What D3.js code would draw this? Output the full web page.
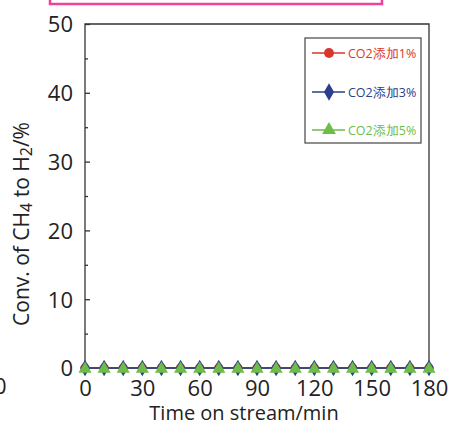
<!DOCTYPE html>
<html><head><meta charset="utf-8">
<script src="https://cdn.jsdelivr.net/npm/d3@7"></script>
<style>body{margin:0;background:#fff}svg{display:block}</style>
</head><body>
<svg id="c" width="452" height="425"></svg>
<script>
const times = [0,10,20,30,40,50,60,70,80,90,100,110,120,130,140,150,160,170,180];
const conv1 = [0,0,0,0,0,0,0,0,0,0,0,0,0,0,0,0,0,0,0];
const conv3 = [0,0,0,0,0,0,0,0,0,0,0,0,0,0,0,0,0,0,0];
const conv5 = [0,0,0,0,0,0,0,0,0,0,0,0,0,0,0,0,0,0,0];
const seriesNames = ["CO2添加1%","CO2添加3%","CO2添加5%"];
const xTicks = [0,30,60,90,120,150,180];
const yTicks = [0,10,20,30,40,50];
const yMinor = [5,15,25,35,45];

const colors = ["#d8372b","#2c3e8c","#6dbd48"];
const font = "'Open Sans', 'Noto Sans', sans-serif";
const svg = d3.select("#c");
const L=85, R=429, T=24, B=368;
const x = d3.scaleLinear().domain([0,180]).range([L,R]);
const y = d3.scaleLinear().domain([0,50]).range([B,T]);

// pink box at top
svg.append("rect").attr("x",50).attr("y",-10).attr("width",332).attr("height",14)
  .attr("fill","none").attr("stroke","#f0429a").attr("stroke-width",2.5);

// frame
svg.append("path").attr("d",`M${L},${B}V${T}H${R}V${B}`).attr("fill","none").attr("stroke","#333").attr("stroke-width",1.3);

// y axis
const yAxis = d3.axisLeft(y).tickValues(yTicks).tickSize(-5).tickPadding(12).tickFormat(d3.format("d"));
const gy = svg.append("g").attr("transform",`translate(${L},0)`).call(yAxis);
gy.select(".domain").remove();
gy.selectAll("line").attr("stroke","#333").attr("stroke-width",1.3);
gy.selectAll("text").attr("font-family",font).attr("font-size",22).attr("fill","#222").attr("dy","0.36em");
const gym = svg.append("g").attr("transform",`translate(${L},0)`).call(d3.axisLeft(y).tickValues(yMinor).tickSize(-3).tickFormat(""));
gym.select(".domain").remove();
gym.selectAll("line").attr("stroke","#333").attr("stroke-width",1.3);

// x axis
const gx = svg.append("g").attr("transform",`translate(0,${B})`).call(d3.axisBottom(x).tickValues(xTicks).tickSize(0).tickPadding(12));
gx.select(".domain").remove();
gx.selectAll("text").attr("font-family",font).attr("font-size",22).attr("fill","#222");

// titles
svg.append("text").attr("x",244).attr("y",420).attr("text-anchor","middle")
  .attr("font-family",font).attr("font-size",20).attr("fill","#222").text("Time on stream/min");
const yt = svg.append("text").attr("transform","translate(29,224) rotate(-90)").attr("text-anchor","middle")
  .attr("font-family",font).attr("font-size",21).attr("fill","#222");
yt.append("tspan").text("Conv. of CH");
yt.append("tspan").attr("font-size",16).attr("dy",3).text("4");
yt.append("tspan").attr("dy",-3).text(" to H");
yt.append("tspan").attr("font-size",16).attr("dy",3).text("2");
yt.append("tspan").attr("dy",-3).text("/%");

// stray label at left edge
svg.append("text").attr("x",-6).attr("y",394).attr("font-family",font).attr("font-size",22).attr("fill","#222").text("0");

// data
const data = [conv1,conv3,conv5];
const symbols = [d3.symbolCircle,d3.symbolDiamond,d3.symbolTriangle];
const sizes = [70,80,75];
const line = d3.line().x((d,i)=>x(times[i])).y(d=>y(d));
data.forEach((vals,k)=>{
  svg.append("path").datum(vals).attr("d",line).attr("fill","none").attr("stroke",k===2?"#3a4a6a":colors[k]).attr("stroke-width",1.5);
});
data.forEach((vals,k)=>{
  svg.append("g").selectAll("path").data(vals).join("path")
    .attr("transform",(d,i)=>`translate(${x(times[i])},${y(d)+(k===2?1:0)})`)
    .attr("d",d3.symbol(symbols[k],sizes[k])).attr("fill",colors[k]);
});

// legend
const lg = svg.append("g");
lg.append("rect").attr("x",305).attr("y",38).attr("width",116).attr("height",105)
  .attr("fill","#fff").attr("stroke","#444").attr("stroke-width",1.2);
const legY = [53,92,130];
seriesNames.forEach((n,k)=>{
  lg.append("line").attr("x1",312).attr("x2",345).attr("y1",legY[k]).attr("y2",legY[k]).attr("stroke",colors[k]).attr("stroke-width",1.6);
  lg.append("path").attr("transform",`translate(329,${legY[k]})`).attr("d",d3.symbol(symbols[k],sizes[k]*1.1)).attr("fill",colors[k]);
  lg.append("text").attr("x",348).attr("y",legY[k]).attr("dy","0.36em").attr("font-family",font).attr("font-size",12.5).attr("fill",colors[k]).text(n);
});
</script>
</body></html>
